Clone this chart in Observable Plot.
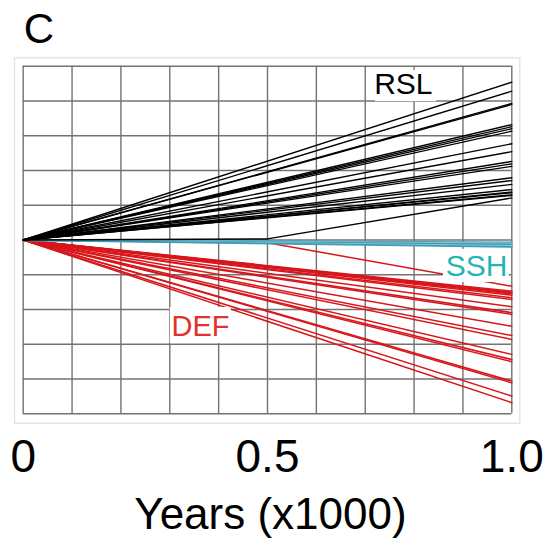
<!DOCTYPE html>
<html>
<head>
<meta charset="utf-8">
<script src="https://cdn.jsdelivr.net/npm/d3@7"></script>
<script src="https://cdn.jsdelivr.net/npm/@observablehq/plot@0.6"></script>
<style>
  html, body { margin: 0; padding: 0; background: white; }
</style>
</head>
<body>
<div id="chart"></div>
<script>
// ---- data ----
const panelLabel = "C";
const xLabel = "Years (x1000)";
const xTicks = [0, 0.5, 1.0];
const xTickLabels = ["0", "0.5", "1.0"];
const xGrid = [0, 0.1, 0.2, 0.3, 0.4, 0.5, 0.6, 0.7, 0.8, 0.9, 1.0];
const yGrid = [-5, -4, -3, -2, -1, 0, 1, 2, 3, 4, 5];

// straight lines from (0,0) to (1.0, value)
const rslEnd = [4.54, 4.28, 3.93, 3.90, 3.32, 3.26, 3.20, 3.13, 2.77, 2.54, 2.26, 2.19, 2.12, 1.79, 1.71, 1.60, 1.45, 1.38, 1.36, 1.30, 1.28];
const defEnd = [-1.47, -1.50, -1.52, -1.55, -1.59, -1.66, -1.71, -1.92, -2.09, -2.14, -2.48, -2.75, -2.86, -3.29, -3.44, -3.50, -4.06, -4.11, -4.49, -4.68];
const sshEnd = [-0.07, -0.10, -0.13, -0.17, -0.20];
// lines with a bend at 0.5
const rslBent = [{mid: 0.03, end: 1.21}];
const defBent = [{mid: -0.08, end: -1.33}];

const groupNames = ["RSL", "SSH", "DEF"];

// ---- build line table ----
const rows = [];
function addStraight(group, ends) {
  ends.forEach((v, i) => {
    const id = group + "-s" + i;
    rows.push({id, group, t: xTicks[0], v: 0});
    rows.push({id, group, t: xTicks[2], v});
  });
}
function addBent(group, list) {
  list.forEach((d, i) => {
    const id = group + "-b" + i;
    rows.push({id, group, t: xTicks[0], v: 0});
    rows.push({id, group, t: xTicks[1], v: d.mid});
    rows.push({id, group, t: xTicks[2], v: d.end});
  });
}
addStraight("DEF", defEnd); addBent("DEF", defBent);
addStraight("SSH", sshEnd);
addStraight("RSL", rslEnd); addBent("RSL", rslBent);

const byGroup = g => rows.filter(r => r.group === g);
const grid = "#737373";

const chart = Plot.plot({
  width: 556,
  height: 545,
  marginLeft: 22.7,
  marginRight: 44.7,
  marginTop: 65.7,
  marginBottom: 131.7,
  x: {domain: [0, 1], axis: null},
  y: {domain: [-5, 5], axis: null},
  style: {fontFamily: "'Liberation Sans', Arial, sans-serif", background: "white", color: "black"},
  marks: [
    Plot.frame({stroke: "#e2e2e2", strokeWidth: 1.3, insetLeft: -8.7, insetRight: -8, insetTop: -8.4, insetBottom: -9.5}),
    Plot.ruleX(xGrid, {stroke: grid, strokeWidth: 1.4}),
    Plot.ruleY(yGrid, {stroke: grid, strokeWidth: 1.4}),
    Plot.line(byGroup("DEF"), {x: "t", y: "v", z: "id", stroke: "#d8161b", strokeWidth: 1.5}),
    Plot.line(byGroup("SSH"), {x: "t", y: "v", z: "id", stroke: (d) => (d.id.endsWith("1") || d.id.endsWith("3")) ? "#8cc9d8" : "#3c9cb5", strokeWidth: 1.8}),
    Plot.line(byGroup("RSL"), {x: "t", y: "v", z: "id", stroke: "#000", strokeWidth: 1.35}),
    // white label backgrounds
    Plot.rect([groupNames[0]], {x1: 0.721, x2: 0.846, y1: 3.98, y2: 4.88, fill: "white"}),
    Plot.rect([groupNames[1]], {x1: 0.860, x2: 0.995, y1: -1.22, y2: -0.27, fill: "white"}),
    Plot.rect([groupNames[2]], {x1: 0.301, x2: 0.426, y1: -2.98, y2: -1.94, fill: "white"}),
    // labels
    Plot.text([groupNames[0]], {x: 0.778, y: 4.21, text: d => d, fontSize: 30, lineAnchor: "bottom", fill: "#000"}),
    Plot.text([groupNames[1]], {x: 0.928, y: -1.04, text: d => d, fontSize: 30, lineAnchor: "bottom", fill: "#26b3b6"}),
    Plot.text([groupNames[2]], {x: 0.363, y: -2.77, text: d => d, fontSize: 29, lineAnchor: "bottom", fill: "#e3302c"}),
    // panel letter
    Plot.text([panelLabel], {frameAnchor: "top-left", dx: 0.5, dy: -23, text: d => d, fontSize: 42, lineAnchor: "bottom", textAnchor: "start", fill: "#000"}),
    // x tick labels
    Plot.text(xTicks, {x: d => d, frameAnchor: "bottom", text: (d, i) => xTickLabels[i], dy: 57.7, fontSize: 46, lineAnchor: "bottom", fill: "#000"}),
    // x axis title
    Plot.text([xLabel], {frameAnchor: "bottom", dx: 3, dy: 115, text: d => d, fontSize: 44, lineAnchor: "bottom", fill: "#000"})
  ]
});
document.getElementById("chart").appendChild(chart);
</script>
</body>
</html>
